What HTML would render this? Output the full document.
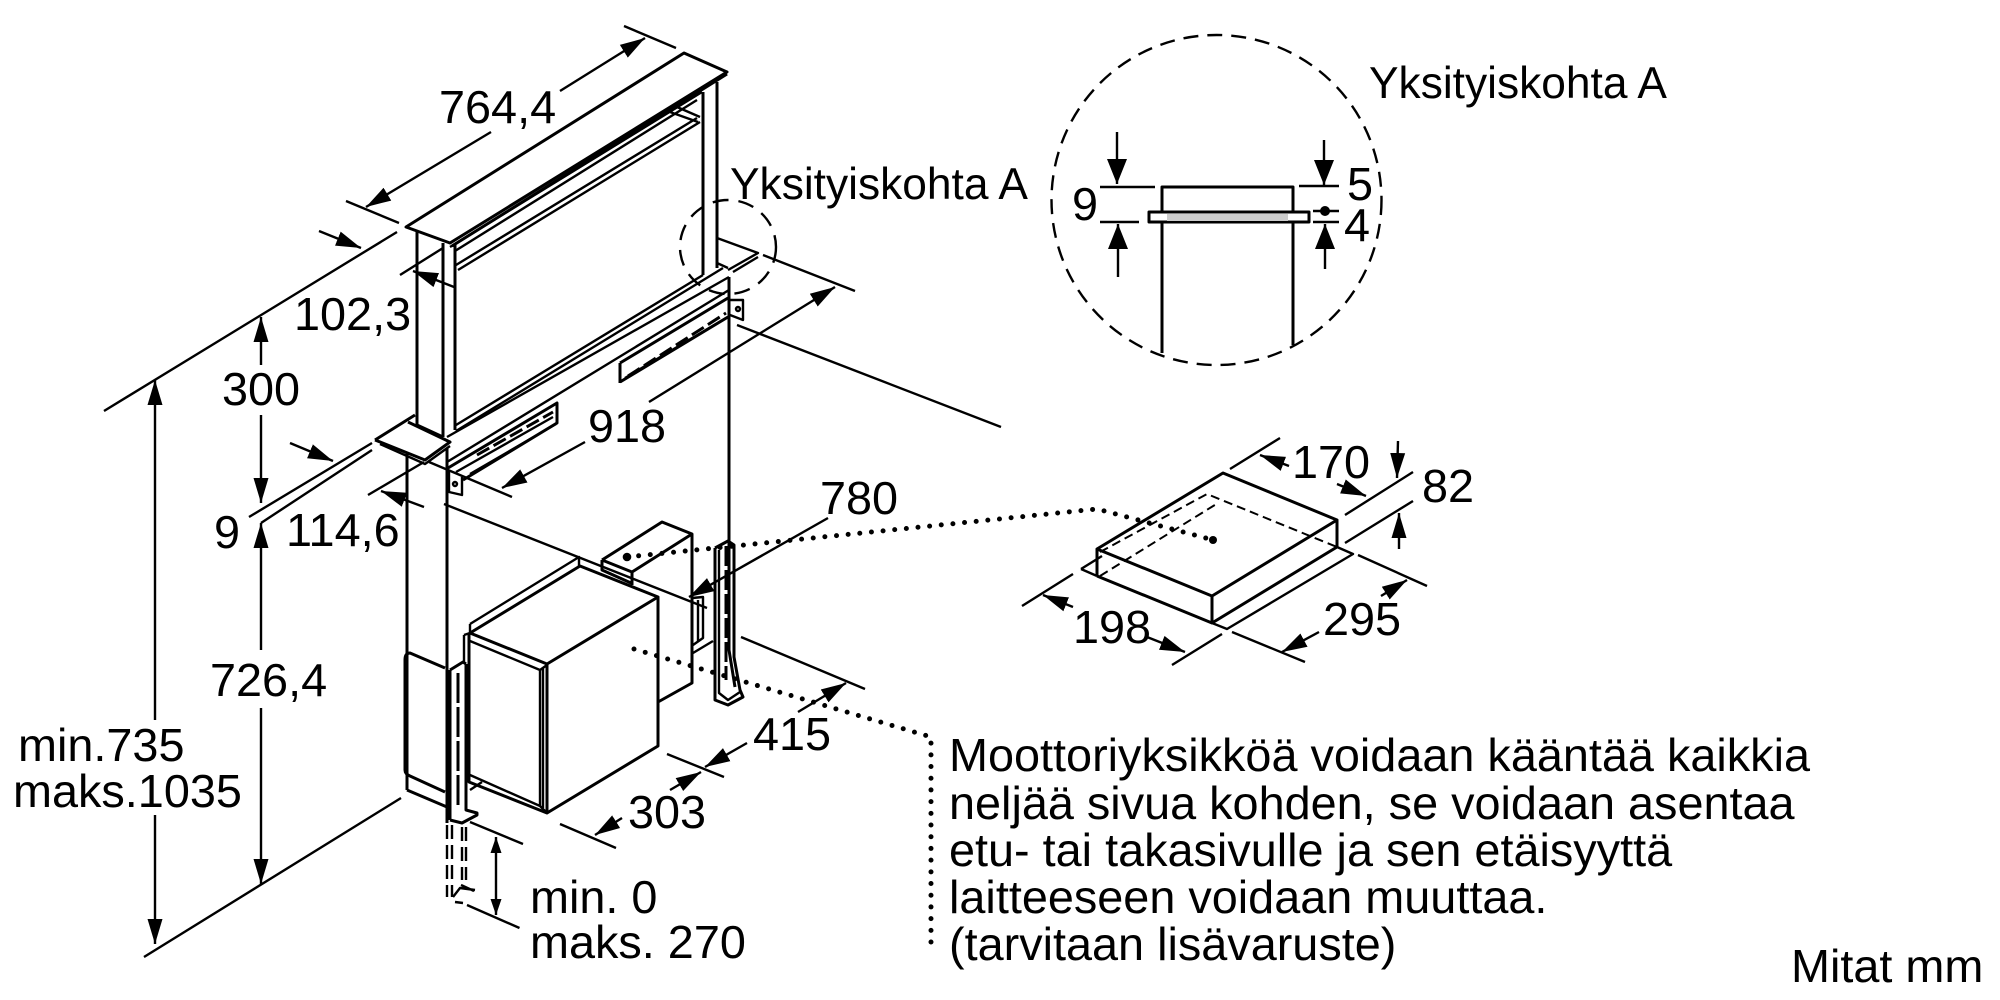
<!DOCTYPE html>
<html><head><meta charset="utf-8"><style>
html,body{margin:0;padding:0;background:#fff}
svg{display:block}
text{font-family:"Liberation Sans",sans-serif;font-size:46.8px;fill:#000}
text.y{font-size:44.3px}
</style></head><body>
<svg width="2000" height="1000" viewBox="0 0 2000 1000" xmlns="http://www.w3.org/2000/svg">
<defs>
<marker id="a" markerUnits="userSpaceOnUse" markerWidth="30" markerHeight="20" refX="25" refY="10" orient="auto"><path d="M0,2.5 L25,10 L0,17.5 z" fill="#000"/></marker>
<marker id="b" markerUnits="userSpaceOnUse" markerWidth="30" markerHeight="24" refX="25" refY="12" orient="auto"><path d="M0,2 L25,12 L0,22 z" fill="#000"/></marker>
<marker id="c" markerUnits="userSpaceOnUse" markerWidth="20" markerHeight="14" refX="16" refY="7" orient="auto"><path d="M0,1.5 L16,7 L0,12.5 z" fill="#000"/></marker>
</defs>
<g fill="none" stroke="#000" stroke-width="2.4" stroke-linejoin="round">
<!-- top panel -->
<path stroke-width="3" d="M684,53 L727,72 L450,243 L406,227 Z" fill="#fff"/>
<path stroke-width="3" d="M727,74 L452,246"/>
<path d="M702,92 L450,247 M697,100 L455,251 M697,118 L456,265 M700,122 L458,270 M670,112 L698,122 M677,107 L700,117"/>
<path stroke-width="3" d="M417,232V425 M443,243V437 M455,245V430 M703,92V275 M717,82V268"/>
<path d="M456,425 L703,275 M456,431 L723,268"/>
<path d="M447,437 L729,277 M447,462 L729,290"/>
<path stroke-width="3" d="M417,425 L443,437"/>
<!-- flanges -->
<path stroke-width="3" d="M375,440 L415,415 M375,440 L425,460 L450,442 L408,422"/>
<path d="M380,444 L425,464 L450,446"/>
<path d="M717,238 L758,253 L728,270 M758,257 L733,272 M717,263 L728,268"/>
<!-- verticals -->
<path stroke-width="3" d="M407,453V790 M447,448V823 M729,277V650 L735,687"/>
<!-- rail plates -->
<path stroke-width="3" d="M448,468 L557,403 V423 L463,480 M620,363 L728,298 M620,382 L728,317 M620,363V383"/>
<path stroke-width="3" stroke-dasharray="14 5" d="M477,455 L553,412 M628,376 L726,313"/>
<path d="M456,472 L553,417 M470,474 L556,424 M625,378 L726,318"/>
<path d="M449,470V492 L462,495 V477 M730,300 L743,300 V320 L730,315"/>
<circle cx="455" cy="484" r="2"/><circle cx="738" cy="309" r="2"/>
<!-- motor box -->
<path d="M470,624 L579,557 V566 M470,624V633 M464,635 L470,633 M464,635V662 M469,640V714"/>
<path stroke-width="3" d="M470,633 L580,566 L658,597 L547,664 Z M469,633V782 L547,813 V664 M658,597V746 L547,813" fill="#fff"/>
<path d="M470,641 L540,670 V806 L470,775 M540,670 L547,665 M540,806 L547,813 M543,668V808"/>
<path d="M470,790 L482,782"/>
<!-- behind unit -->
<path stroke-width="3" d="M602,560 L662,522 L692,534 V683 L658,702 M692,534 L632,572 M602,560 L632,572 M602,560V570 L631,583 M632,572V585"/>
<path d="M692,598 L703,597 V638 L693,645 M698,600V642 M693,653 L713,641"/>
<!-- right bracket -->
<path stroke-width="3" d="M715,548 L728,541 L734,545 V657 L740,690 L743,697 L728,705 L715,700 V548"/>
<path d="M719,550V693 L728,700 L740,692"/>
<path stroke-width="3" stroke-dasharray="20 4" d="M726,546V680"/>
<!-- left box rounded & bracket -->
<path stroke-width="3" d="M405,660 Q405,653 410,653 L445,668 M405,660V770 Q405,774 410,776 L445,792 M407,790 L447,807"/>
<path stroke-width="3" d="M450,670V820 M466,664V810 L477,813 V815 L462,823 L450,820 M450,670 L463,662 L466,664"/>
<path stroke-width="3" stroke-dasharray="30 4" d="M458,673V808"/>
<path stroke-width="2.4" stroke-dasharray="14 6" d="M447,825V897 M452,825V897 M462,827V880 M466,827V880"/>
<path d="M453,897 L460,888 L475,890 M461,885 L474,891 M455,902 L463,903"/>
<!-- dim extension lines -->
<path d="M624,26 L676,48 M346,201 L399,223 M397,232 L104,411 M400,275 L443,248 M372,443 L249,517 M372,450 L261,523 M368,495 L424,462 M401,798 L144,957 M737,325 L1001,427 M763,255 L855,291 M429,462 L512,497 M444,504 L707,608 M741,637 L865,689 M667,754 L724,777 M560,824 L616,848 M470,822 L523,844 M467,905 L519.5,928"/>
<path d="M1230,469 L1280,438 M1345,515 L1413,472 M1345,543 L1413,501 M1358,555 L1427,586 M1232,632 L1305,662 M1222,634 L1172,665 M1073,574 L1022,606"/>
<!-- arrows -->
<g marker-end="url(#a)">
<path d="M560,91 L645,38"/><path d="M491,132 L366,207"/>
<path d="M319,231 L361,248"/><path d="M454,287 L413,271"/>
<path d="M261,365V317"/><path d="M261,415V503"/>
<path d="M155,720V380"/><path d="M155,815V944"/>
<path d="M290,443 L333,461"/><path d="M424,507 L381,491"/>
<path d="M261,650V523"/><path d="M261,708V884"/>
<path d="M649,402 L835,287"/><path d="M585,442 L502,488"/>
<path d="M828,518 L689,597"/>
<path d="M798,712 L846,683"/><path d="M747,743 L705,767"/>
<path d="M670,790 L701,772"/><path d="M622,818 L595,835"/>
<path d="M1289,466 L1260,455"/><path d="M1337,484 L1366,496"/>
<path d="M1398,441 L1397,478"/><path d="M1399,549V513"/>
<path d="M1381,596 L1407,580"/><path d="M1319,632 L1282,652"/>
<path d="M1147,637 L1185,652"/><path d="M1073,607 L1043,595"/>
</g>
<path d="M496,875V837" marker-end="url(#c)"/>
<path d="M496,875V915" marker-end="url(#c)"/>
<!-- dashed detail ellipse on main drawing -->
<ellipse cx="728" cy="247" rx="48" ry="47" stroke-dasharray="16 10"/>
<!-- detail A -->
<circle cx="1216.5" cy="200" r="165" stroke-dasharray="15 9"/>
<path stroke-width="3" d="M1162,353V187H1293V345"/>
<rect x="1149" y="212" width="160" height="10" fill="#fff" stroke-width="3"/>
<rect x="1167" y="214" width="121" height="7" fill="#ccc" stroke="none"/>
<path d="M1100,187H1155 M1100,222H1139 M1299,186H1339 M1313,211H1339 M1313,222H1339"/>
<g marker-end="url(#b)">
<path d="M1117,132V184"/><path d="M1118,277V224"/>
<path d="M1324,140V185"/><path d="M1325,269V224"/>
</g>
<circle cx="1325" cy="211" r="5" fill="#000" stroke="none"/>
<!-- small box -->
<path stroke-width="3" d="M1223,473 L1337,520 L1212,596 L1097,549 Z M1212,596V623 M1097,549V576 M1337,520V547"/>
<path stroke-width="3" d="M1097,576 L1212,623 L1337,547"/>
<path d="M1081,569 L1097,576 M1081,569 L1102,556 M1337,547 L1353,554 L1227,629 L1212,623"/>
<path stroke-dasharray="9 5" stroke-width="2" d="M1100,552 L1207,494 L1337,547 M1100,576 L1218,503"/>
<!-- dotted -->
<path stroke-width="5" stroke-linecap="round" stroke-dasharray="0 11.7" d="M627,557 L1097,509 L1213,540"/>
<path stroke-width="5" stroke-linecap="round" stroke-dasharray="0 11.7" d="M634,649 L931,737 V950"/>
</g>
<circle cx="627" cy="557" r="4.3" fill="#000"/><circle cx="1213" cy="540" r="4" fill="#000"/>
<text x="439" y="123">764,4</text>
<text class="y" x="730" y="199">Yksityiskohta A</text>
<text class="y" x="1369" y="98">Yksityiskohta A</text>
<text x="294" y="330">102,3</text>
<text x="222" y="405">300</text>
<text x="588" y="442">918</text>
<text x="214" y="548">9</text>
<text x="286" y="546">114,6</text>
<text x="210" y="696">726,4</text>
<text x="18" y="761">min.735</text>
<text x="13" y="807">maks.1035</text>
<text x="820" y="514">780</text>
<text x="753" y="750">415</text>
<text x="628" y="828">303</text>
<text x="530" y="913">min. 0</text>
<text x="530" y="958">maks. 270</text>
<text x="1292" y="478">170</text>
<text x="1422" y="502">82</text>
<text x="1073" y="643">198</text>
<text x="1323" y="635">295</text>
<text x="1072" y="220">9</text>
<text x="1347" y="200">5</text>
<text x="1344" y="241">4</text>
<text x="949" y="771">Moottoriyksikköä voidaan kääntää kaikkia</text>
<text x="949" y="819">neljää sivua kohden, se voidaan asentaa</text>
<text x="949" y="866">etu- tai takasivulle ja sen etäisyyttä</text>
<text x="949" y="913">laitteeseen voidaan muuttaa.</text>
<text x="949" y="960">(tarvitaan lisävaruste)</text>
<text x="1791" y="982">Mitat mm</text>
</svg>
</body></html>
